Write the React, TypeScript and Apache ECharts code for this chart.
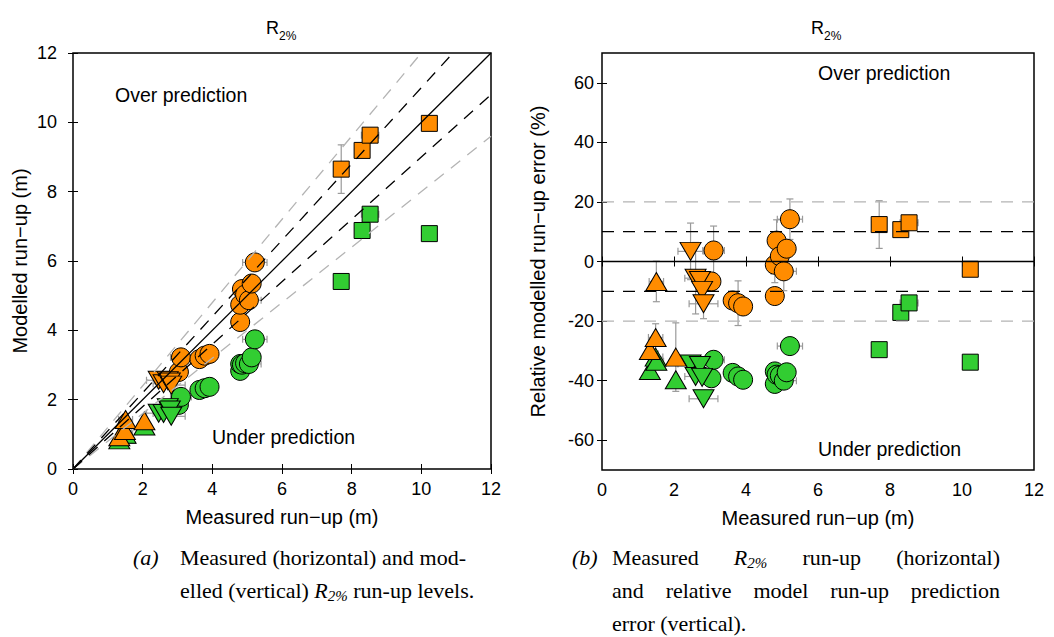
import React, { useEffect, useRef } from "react";
import * as echarts from "echarts";

const SANS = "'Liberation Sans', Arial, Helvetica, sans-serif";
const SERIF = "'Liberation Serif', 'Times New Roman', serif";
const ORANGE = "#FF8C00";
const GREEN = "#32CD32";
const ERRC = "#9a9a9a";

// ---- tick labels ----
const runupTicks = [0, 2, 4, 6, 8, 10, 12];
const errorTicks = [-60, -40, -20, 0, 20, 40, 60];
// reference lines: modelled / measured ratios (left) and relative error levels (right)
const ratioSolid = [1];
const ratioBlackDash = [1.1, 0.9];
const ratioGrayDash = [1.2, 0.8];
const errSolid = [0];
const errBlackDash = [10, -10];
const errGrayDash = [20, -20];

// ---- upward triangles ----
const upX = [1.33, 1.49, 1.51, 2.05];
const upOrangeModel = [0.93, 1.11, 1.43, 1.39];
const upGreenModel = [0.84, 1.01, 1.0, 1.24];
const upOrangeErr = [-29.9, -25.5, -6.7, -32.1];
const upGreenErr = [-36.6, -32.1, -33.5, -39.7];
const upXUnc = [0, 0.2, 0.2, 0];
const upOrangeErrUnc = [0, 4.6, 6.8, 11.5];

// ---- downward triangles ----
const downX = [2.46, 2.6, 2.72, 2.78, 2.82];
const downOrangeModel = [2.56, 2.46, 2.55, 2.51, 2.42];
const downGreenModel = [1.61, 1.6, 1.77, 1.7, 1.52];
const downOrangeErr = [3.4, -5.6, -6.4, -9.7, -14.2];
const downGreenErr = [-34.4, -38.6, -34.9, -38.9, -46.1];
const downXUnc = [0.35, 0.3, 0, 0, 0.4];
const downOrangeErrUnc = [9.5, 12, 0, 0, 5];

// ---- circles ----
const circleX = [3.04, 3.1, 3.63, 3.78, 3.92, 4.8, 4.8, 4.85, 4.94, 5.05, 5.13, 5.22];
const circleOrangeModel = [2.8, 3.22, 3.17, 3.27, 3.32, 4.24, 4.74, 5.19, 5.03, 4.87, 5.35, 5.96];
const circleGreenModel = [1.85, 2.08, 2.28, 2.33, 2.37, 2.83, 3.03, 3.01, 3.05, 3.03, 3.22, 3.74];
const circleOrangeErr = [-6.7, 3.7, -13.1, -14.0, -15.1, -11.6, -1.1, 7.0, 1.8, -3.3, 4.3, 14.2];
const circleGreenErr = [-39.2, -33.0, -37.4, -38.6, -39.7, -41.1, -36.9, -38.0, -38.3, -40.0, -37.2, -28.4];
const circleXUnc = [0, 0.3, 0, 0, 0.15, 0, 0, 0, 0, 0.35, 0, 0.35];
const circleOrangeModelUnc = [0, 0, 0, 0, 0, 0, 0, 0, 0, 0, 0, 0.12];
const circleOrangeErrUnc = [0, 8.2, 0, 7.5, 0, 0, 6, 7, 0, 6.5, 0, 6.8];

// ---- squares ----
const squareX = [7.7, 8.3, 8.53, 10.23];
const squareOrangeModel = [8.65, 9.19, 9.63, 9.97];
const squareGreenModel = [5.41, 6.88, 7.35, 6.79];
const squareOrangeErr = [12.4, 10.7, 13.0, -2.6];
const squareGreenErr = [-29.6, -17.1, -13.9, -33.8];
const squareXUnc = [0.2, 0.2, 0.25, 0];
const squareOrangeModelUnc = [0.7, 0, 0, 0.2];
const squareOrangeErrUnc = [8, 0, 0, 2];

const none = (a: number[]) => a.map(() => 0);

type Group = {
  name: string;
  symbol: string;
  size: number | number[];
  rotate: number;
  color: string;
  x: number[];
  model: number[];
  err: number[];
  xu: number[];
  mu: number[];
  eu: number[];
};

const CIRC = 19;
const SQ = 16;
const TRI = [21, 18];

const groups: Group[] = [
  { name: "Circle (green)", symbol: "circle", size: CIRC, rotate: 0, color: GREEN, x: circleX, model: circleGreenModel, err: circleGreenErr, xu: circleXUnc, mu: none(circleX), eu: none(circleX) },
  { name: "Circle (orange)", symbol: "circle", size: CIRC, rotate: 0, color: ORANGE, x: circleX, model: circleOrangeModel, err: circleOrangeErr, xu: circleXUnc, mu: circleOrangeModelUnc, eu: circleOrangeErrUnc },
  { name: "Square (green)", symbol: "rect", size: SQ, rotate: 0, color: GREEN, x: squareX, model: squareGreenModel, err: squareGreenErr, xu: squareXUnc, mu: none(squareX), eu: none(squareX) },
  { name: "Square (orange)", symbol: "rect", size: SQ, rotate: 0, color: ORANGE, x: squareX, model: squareOrangeModel, err: squareOrangeErr, xu: squareXUnc, mu: squareOrangeModelUnc, eu: squareOrangeErrUnc },
  { name: "Down (green)", symbol: "triangle", size: TRI, rotate: 180, color: GREEN, x: downX, model: downGreenModel, err: downGreenErr, xu: downXUnc, mu: none(downX), eu: none(downX) },
  { name: "Down (orange)", symbol: "triangle", size: TRI, rotate: 180, color: ORANGE, x: downX, model: downOrangeModel, err: downOrangeErr, xu: downXUnc, mu: none(downX), eu: downOrangeErrUnc },
  { name: "Up (green)", symbol: "triangle", size: TRI, rotate: 0, color: GREEN, x: upX, model: upGreenModel, err: upGreenErr, xu: upXUnc, mu: none(upX), eu: none(upX) },
  { name: "Up (orange)", symbol: "triangle", size: TRI, rotate: 0, color: ORANGE, x: upX, model: upOrangeModel, err: upOrangeErr, xu: upXUnc, mu: none(upX), eu: upOrangeErrUnc },
];

// ---- captions ----
type Seg = { t: string; it?: boolean; sub?: boolean };
type CapLine = { words: Seg[][]; justify: boolean };
const captionA: CapLine[] = [
  { words: [[{ t: "Measured" }], [{ t: "(horizontal)" }], [{ t: "and" }], [{ t: "mod-" }]], justify: true },
  { words: [[{ t: "elled" }], [{ t: "(vertical)" }], [{ t: "R", it: true }, { t: "2%", it: true, sub: true }], [{ t: "run-up" }], [{ t: "levels." }]], justify: false },
];
const captionB: CapLine[] = [
  { words: [[{ t: "Measured" }], [{ t: "R", it: true }, { t: "2%", it: true, sub: true }], [{ t: "run-up" }], [{ t: "(horizontal)" }]], justify: true },
  { words: [[{ t: "and" }], [{ t: "relative" }], [{ t: "model" }], [{ t: "run-up" }], [{ t: "prediction" }]], justify: true },
  { words: [[{ t: "error" }], [{ t: "(vertical)." }]], justify: false },
];

const CAP_SIZE = 22;
const SUB_SIZE = 15;

let ctx2d: CanvasRenderingContext2D | null = null;
function measure(s: string, size: number, italic: boolean) {
  if (!ctx2d) ctx2d = document.createElement("canvas").getContext("2d");
  if (!ctx2d) return s.length * size * 0.45;
  ctx2d.font = `${italic ? "italic " : ""}${size}px 'Liberation Serif'`;
  return ctx2d.measureText(s).width;
}

function segWidth(seg: Seg) {
  return measure(seg.t, seg.sub ? SUB_SIZE : CAP_SIZE, !!seg.it);
}

function textEl(t: string, x: number, y: number, size: number, italic: boolean, family: string) {
  return {
    type: "text",
    x,
    y,
    silent: true,
    style: {
      text: t,
      fontSize: size,
      fontFamily: family,
      fontStyle: italic ? "italic" : "normal",
      fill: "#000",
      textAlign: "left",
      align: "left",
      textVerticalAlign: "middle",
      verticalAlign: "middle",
    },
  };
}

function buildCaption(label: string, labelX: number, lines: CapLine[], x0: number, x1: number, y0: number, lh: number) {
  const els: any[] = [textEl(label, labelX, y0, CAP_SIZE, true, SERIF)];
  lines.forEach((line, li) => {
    const y = y0 + li * lh;
    const widths = line.words.map((w) => w.reduce((s, sg) => s + segWidth(sg), 0));
    const total = widths.reduce((a, b) => a + b, 0);
    const gap = line.justify && line.words.length > 1 ? (x1 - x0 - total) / (line.words.length - 1) : CAP_SIZE * 0.25;
    let cx = x0;
    line.words.forEach((w, wi) => {
      let px = cx;
      w.forEach((sg) => {
        els.push(textEl(sg.t, px, sg.sub ? y + 6 : y, sg.sub ? SUB_SIZE : CAP_SIZE, !!sg.it, SERIF));
        px += segWidth(sg);
      });
      cx += widths[wi] + gap;
    });
  });
  return els;
}

const renderErr = (_params: any, api: any) => {
  const x = api.value(0);
  const y = api.value(1);
  const dx = api.value(2);
  const dy = api.value(3);
  const st = { stroke: ERRC, lineWidth: 1.2, fill: null };
  const cap = 3.5;
  const ch: any[] = [];
  const seg = (x1: number, y1: number, x2: number, y2: number) =>
    ch.push({ type: "line", shape: { x1, y1, x2, y2 }, style: st });
  if (dx > 0) {
    const a = api.coord([x - dx, y]);
    const b = api.coord([x + dx, y]);
    seg(a[0], a[1], b[0], b[1]);
    seg(a[0], a[1] - cap, a[0], a[1] + cap);
    seg(b[0], b[1] - cap, b[0], b[1] + cap);
  }
  if (dy > 0) {
    const a = api.coord([x, y - dy]);
    const b = api.coord([x, y + dy]);
    seg(a[0], a[1], b[0], b[1]);
    seg(a[0] - cap, a[1], a[0] + cap, a[1]);
    seg(b[0] - cap, b[1], b[0] + cap, b[1]);
  }
  return { type: "group", children: ch };
};

function axisBase(extra: any) {
  return {
    type: "value",
    axisLine: { show: false },
    splitLine: { show: false },
    axisTick: { show: true, inside: true, length: 5, lineStyle: { color: "#000", width: 1 } },
    axisLabel: { color: "#000", fontSize: 18, fontFamily: SANS },
    nameTextStyle: { color: "#000", fontSize: 20, fontFamily: SANS },
    ...extra,
  };
}

export default function App() {
  const ref = useRef<HTMLDivElement>(null);
  useEffect(() => {
    if (!ref.current) return;
    const chart = echarts.init(ref.current, undefined, { renderer: "svg" });

    const runupAxis = { min: 0, max: 12, interval: 2 };
    const errAxis = {
      min: -70,
      max: 70,
      axisLabel: { color: "#000", fontSize: 18, fontFamily: SANS, margin: 8, customValues: errorTicks },
      axisTick: { show: true, inside: true, length: 5, lineStyle: { color: "#000", width: 1 }, customValues: errorTicks },
    };

    const series: any[] = [];
    const lineStyleFor = (kind: string) =>
      kind === "solid"
        ? { color: "#000", width: 1.3, type: "solid" }
        : kind === "black"
        ? { color: "#000", width: 1.3, type: [12, 9] }
        : { color: "#b4b4b4", width: 1.3, type: [12, 9] };

    const xMax = runupTicks[runupTicks.length - 1];
    const addRatio = (ratios: number[], kind: string) =>
      ratios.forEach((r) => {
        const xe = Math.min(xMax, xMax / r);
        series.push({
          type: "line",
          xAxisIndex: 0,
          yAxisIndex: 0,
          data: [[0, 0], [xe, r * xe]],
          symbol: "none",
          silent: true,
          lineStyle: lineStyleFor(kind),
        });
      });
    addRatio(ratioGrayDash, "gray");
    addRatio(ratioBlackDash, "black");
    addRatio(ratioSolid, "solid");

    const addLevel = (levels: number[], kind: string) =>
      levels.forEach((v) => {
        series.push({
          type: "line",
          xAxisIndex: 2,
          yAxisIndex: 2,
          data: [[runupTicks[0], v], [xMax, v]],
          symbol: "none",
          silent: true,
          lineStyle: lineStyleFor(kind),
        });
      });
    addLevel(errGrayDash, "gray");
    addLevel(errBlackDash, "black");
    addLevel(errSolid, "solid");

    groups.forEach((g) => {
      const leftRows = g.x.map((x, i) => [x, g.model[i], g.xu[i], g.mu[i]]).filter((r) => r[2] > 0 || r[3] > 0);
      const rightRows = g.x.map((x, i) => [x, g.err[i], g.xu[i], g.eu[i]]).filter((r) => r[2] > 0 || r[3] > 0);
      series.push({
        type: "custom",
        xAxisIndex: 0,
        yAxisIndex: 0,
        renderItem: renderErr,
        encode: { x: 0, y: 1 },
        data: leftRows,
        silent: true,
      });
      series.push({
        type: "custom",
        xAxisIndex: 2,
        yAxisIndex: 2,
        renderItem: renderErr,
        encode: { x: 0, y: 1 },
        data: rightRows,
        silent: true,
      });
      const itemStyle = { color: g.color, borderColor: "#000", borderWidth: 1, opacity: 1 };
      series.push({
        name: g.name,
        type: "scatter",
        xAxisIndex: 0,
        yAxisIndex: 0,
        symbol: g.symbol,
        symbolSize: g.size,
        symbolRotate: g.rotate,
        itemStyle,
        data: g.x.map((x, i) => [x, g.model[i]]),
      });
      series.push({
        name: g.name,
        type: "scatter",
        xAxisIndex: 2,
        yAxisIndex: 2,
        symbol: g.symbol,
        symbolSize: g.size,
        symbolRotate: g.rotate,
        itemStyle,
        data: g.x.map((x, i) => [x, g.err[i]]),
      });
    });

    const ann = (t: string, x: number, y: number, size = 19.5) => ({
      type: "text",
      x,
      y,
      silent: true,
      style: { text: t, fontSize: size, fontFamily: SANS, fill: "#000", textVerticalAlign: "middle", verticalAlign: "middle" },
    });

    const graphic: any[] = [
      ann("Over prediction", 115, 95),
      ann("Under prediction", 212, 437),
      ann("Over prediction", 818, 73),
      ann("Under prediction", 818, 449),
      ann("R", 266, 28, 18),
      ann("2%", 279, 36, 12),
      ann("R", 811, 28, 18),
      ann("2%", 824, 36, 12),
      ...buildCaption("(a)", 133, captionA, 180, 466, 557, 33),
      ...buildCaption("(b)", 572, captionB, 612, 1000, 557, 33),
    ];

    chart.setOption({
      animation: false,
      grid: [
        { left: 73, top: 53, width: 418, height: 416, show: true, borderColor: "#000", borderWidth: 1.5, backgroundColor: "transparent", containLabel: false },
        { left: 602, top: 53, width: 432, height: 417, show: true, borderColor: "#000", borderWidth: 1.5, backgroundColor: "transparent", containLabel: false },
      ],
      xAxis: [
        axisBase({ gridIndex: 0, position: "bottom", ...runupAxis, name: "Measured run−up (m)", nameLocation: "middle", nameGap: 38, axisLabel: { color: "#000", fontSize: 18, fontFamily: SANS, margin: 11 } }),
        axisBase({ gridIndex: 0, position: "top", ...runupAxis, axisLabel: { show: false } }),
        axisBase({ gridIndex: 1, position: "bottom", ...runupAxis, name: "Measured run−up (m)", nameLocation: "middle", nameGap: 38, axisLabel: { color: "#000", fontSize: 18, fontFamily: SANS, margin: 11 } }),
        axisBase({ gridIndex: 1, position: "top", ...runupAxis, axisLabel: { show: false } }),
      ],
      yAxis: [
        axisBase({ gridIndex: 0, position: "left", ...runupAxis, name: "Modelled run−up (m)", nameLocation: "middle", nameGap: 43, axisLabel: { color: "#000", fontSize: 18, fontFamily: SANS, margin: 16 } }),
        axisBase({ gridIndex: 0, position: "right", ...runupAxis, axisLabel: { show: false } }),
        axisBase({ gridIndex: 1, position: "left", ...errAxis, name: "Relative modelled run−up error (%)", nameLocation: "middle", nameGap: 54 }),
        axisBase({ gridIndex: 1, position: "right", ...errAxis, axisLabel: { show: false } }),
      ],
      series,
      graphic,
    });
    return () => chart.dispose();
  }, []);
  return <div ref={ref} style={{ position: "absolute", left: 0, top: 0, width: 1054, height: 637, background: "#fff" }} />;
}
